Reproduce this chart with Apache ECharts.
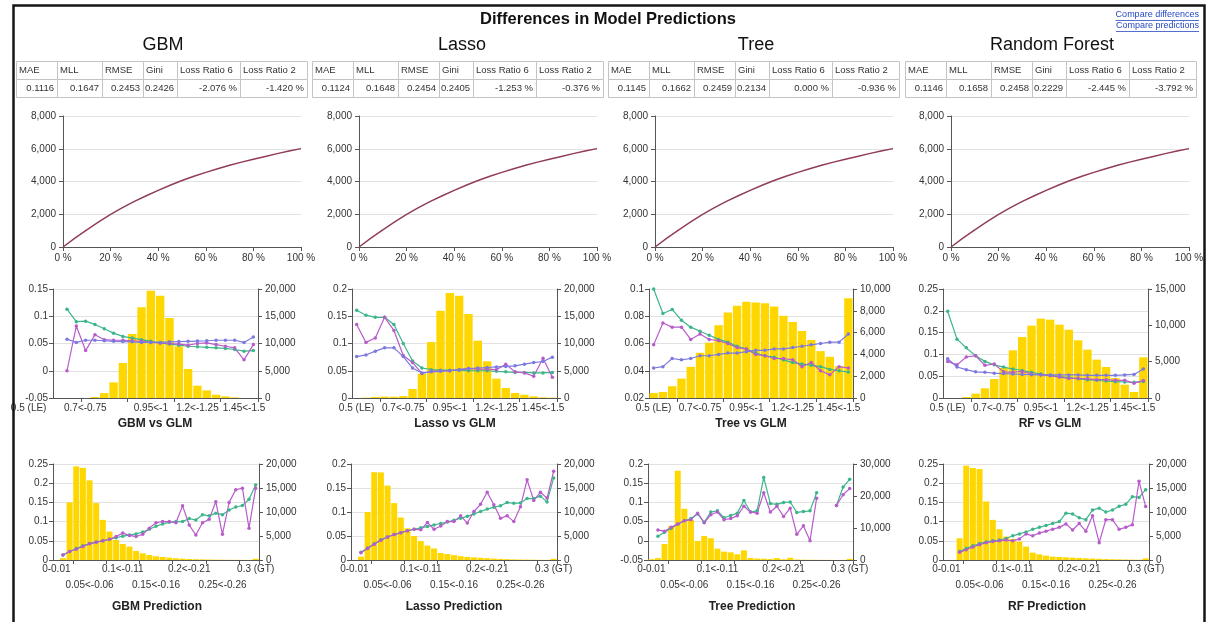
<!DOCTYPE html>
<html>
<head>
<meta charset="utf-8">
<title>Differences in Model Predictions</title>
<script src="https://cdn.jsdelivr.net/npm/echarts@6/dist/echarts.min.js"></script>
<style>
  html, body { margin: 0; padding: 0; background: #fff; }
  #chart { width: 1210px; height: 622px; }
</style>
</head>
<body>
<div id="chart"></div>
<script>
// ---------------- data ----------------
const modelNames = ['GBM', 'Lasso', 'Tree', 'Random Forest'];
const shortNames = ['GBM', 'Lasso', 'Tree', 'RF'];

const metricHeaders = ['MAE', 'MLL', 'RMSE', 'Gini', 'Loss Ratio 6', 'Loss Ratio 2'];
const metricsGBM   = ['0.1116', '0.1647', '0.2453', '0.2426', '-2.076 %', '-1.420 %'];
const metricsLasso = ['0.1124', '0.1648', '0.2454', '0.2405', '-1.253 %', '-0.376 %'];
const metricsTree  = ['0.1145', '0.1662', '0.2459', '0.2134', '0.000 %', '-0.936 %'];
const metricsRF    = ['0.1146', '0.1658', '0.2458', '0.2229', '-2.445 %', '-3.792 %'];

// cumulative curve (x in % of exposure)
const cumPct  = [0, 5, 10, 15, 20, 25, 30, 35, 40, 45, 50, 55, 60, 65, 70, 75, 80, 85, 90, 95, 100];
const cumGain = [0, 540, 1050, 1530, 1990, 2400, 2780, 3130, 3460, 3770, 4060, 4320, 4560, 4780, 4990, 5180, 5360, 5530, 5700, 5860, 6010];

// ratio bins (model / GLM)
const ratioBins = ['0.5 (LE)', '0.5<-0.55', '0.55<-0.6', '0.6<-0.65', '0.65<-0.7', '0.7<-0.75', '0.75<-0.8',
  '0.8<-0.85', '0.85<-0.9', '0.9<-0.95', '0.95<-1', '1<-1.05', '1.05<-1.1', '1.1<-1.15', '1.15<-1.2',
  '1.2<-1.25', '1.25<-1.3', '1.3<-1.35', '1.35<-1.4', '1.4<-1.45', '1.45<-1.5', '1.5 (GT)'];

// prediction bins
const predBins = ['0-0.01', '0.01<-0.02', '0.02<-0.03', '0.03<-0.04', '0.04<-0.05', '0.05<-0.06', '0.06<-0.07',
  '0.07<-0.08', '0.08<-0.09', '0.09<-0.1', '0.1<-0.11', '0.11<-0.12', '0.12<-0.13', '0.13<-0.14', '0.14<-0.15',
  '0.15<-0.16', '0.16<-0.17', '0.17<-0.18', '0.18<-0.19', '0.19<-0.2', '0.2<-0.21', '0.21<-0.22', '0.22<-0.23',
  '0.23<-0.24', '0.24<-0.25', '0.25<-0.26', '0.26<-0.27', '0.27<-0.28', '0.28<-0.29', '0.29<-0.3', '0.3 (GT)'];

// --- model vs GLM ratio charts ---
const ratioCountGBM = [0, 0, 0, 0, 180, 900, 2870, 6420, 11740, 16640, 19700, 18780, 14680, 9480, 5320, 2260, 1400, 610, 300, 120, 0, 0];
const ratioActualGBM = [null, 0.113, 0.090, 0.091, 0.085, 0.077, 0.069, 0.063, 0.060, 0.057, 0.054, 0.051, 0.049, 0.047, 0.045, 0.044, 0.043, 0.042, 0.041, 0.039, 0.036, 0.037];
const ratioModelGBM  = [null, 0.000, 0.082, 0.037, 0.066, 0.057, 0.056, 0.056, 0.055, 0.054, 0.052, 0.051, 0.050, 0.049, 0.047, 0.050, 0.051, 0.048, 0.045, 0.042, 0.020, 0.048];
const ratioGlmGBM    = [null, 0.058, 0.052, 0.056, 0.056, 0.055, 0.054, 0.0535, 0.053, 0.052, 0.052, 0.052, 0.053, 0.0535, 0.054, 0.0545, 0.055, 0.056, 0.056, 0.056, 0.052, 0.062];

const ratioCountLasso = [0, 60, 200, 260, 220, 350, 1650, 4460, 10270, 16020, 19270, 18780, 15410, 10520, 6730, 3550, 1830, 920, 610, 300, 120, 60];
const ratioActualLasso = [0.161, 0.152, 0.148, 0.148, 0.135, 0.100, 0.068, 0.055, 0.052, 0.051, 0.051, 0.051, 0.050, 0.050, 0.050, 0.049, 0.048, 0.047, 0.047, 0.046, 0.046, 0.047];
const ratioModelLasso  = [0.135, 0.102, 0.110, 0.148, 0.124, 0.078, 0.065, 0.045, 0.049, 0.050, 0.050, 0.052, 0.054, 0.053, 0.053, 0.052, 0.062, 0.048, 0.046, 0.040, 0.073, 0.038];
const ratioGlmLasso    = [0.076, 0.079, 0.086, 0.092, 0.092, 0.076, 0.055, 0.046, 0.048, 0.049, 0.050, 0.052, 0.054, 0.055, 0.056, 0.057, 0.058, 0.059, 0.062, 0.065, 0.067, 0.075];

const ratioCountTree = [460, 550, 1080, 1780, 2860, 4150, 5080, 6680, 7850, 8460, 8830, 8770, 8700, 8400, 7540, 6980, 6150, 5320, 4300, 3780, 2920, 9140];
const ratioActualTree = [0.100, 0.082, 0.085, 0.077, 0.072, 0.069, 0.066, 0.063, 0.061, 0.058, 0.056, 0.053, 0.051, 0.050, 0.048, 0.046, 0.045, 0.044, 0.043, 0.041, 0.040, 0.039];
const ratioModelTree  = [0.059, 0.075, 0.072, 0.072, 0.063, 0.067, 0.063, 0.062, 0.060, 0.057, 0.056, 0.052, 0.051, 0.049, 0.049, 0.048, 0.043, 0.046, 0.040, 0.037, 0.043, 0.042];
const ratioGlmTree    = [0.042, 0.043, 0.049, 0.048, 0.049, 0.051, 0.051, 0.052, 0.053, 0.053, 0.054, 0.055, 0.055, 0.056, 0.056, 0.057, 0.058, 0.059, 0.060, 0.061, 0.061, 0.067];

const ratioCountRF = [0, 0, 140, 600, 1330, 2610, 4130, 6560, 8390, 9950, 10920, 10780, 10090, 9400, 7940, 6650, 5280, 4270, 2750, 1830, 830, 5600];
const ratioActualRF = [0.199, 0.135, 0.115, 0.097, 0.084, 0.076, 0.071, 0.0665, 0.063, 0.059, 0.055, 0.052, 0.049, 0.047, 0.044, 0.042, 0.0405, 0.039, 0.0375, 0.0367, 0.036, 0.038];
const ratioModelRF  = [0.084, 0.076, 0.094, 0.097, 0.075, 0.078, 0.060, 0.059, 0.061, 0.055, 0.0535, 0.051, 0.048, 0.045, 0.045, 0.044, 0.042, 0.042, 0.0405, 0.0405, 0.034, 0.040];
const ratioGlmRF    = [0.090, 0.071, 0.065, 0.060, 0.059, 0.057, 0.056, 0.055, 0.054, 0.0535, 0.053, 0.053, 0.053, 0.053, 0.053, 0.052, 0.052, 0.052, 0.052, 0.053, 0.054, 0.0665];

// --- prediction charts ---
const predCountGBM = [0, 400, 12000, 19500, 19200, 16600, 11850, 8360, 5920, 4180, 3340, 2790, 1880, 1390, 1050, 770, 630, 490, 350, 280, 210, 170, 130, 100, 80, 60, 50, 40, 30, 20, 250];
const predActualGBM = [null, 0.013, 0.022, 0.030, 0.037, 0.043, 0.047, 0.050, 0.054, 0.058, 0.062, 0.065, 0.068, 0.073, 0.080, 0.088, 0.094, 0.098, 0.100, 0.100, 0.108, 0.104, 0.118, 0.115, 0.122, 0.118, 0.130, 0.138, 0.142, 0.158, 0.195];
const predModelGBM  = [null, 0.013, 0.022, 0.028, 0.035, 0.042, 0.046, 0.050, 0.054, 0.061, 0.070, 0.064, 0.061, 0.067, 0.083, 0.097, 0.100, 0.100, 0.097, 0.141, 0.091, 0.065, 0.097, 0.106, 0.152, 0.067, 0.150, 0.183, 0.187, 0.083, 0.187];

const predCountLasso = [0, 700, 10000, 18300, 18250, 15500, 11850, 8850, 6600, 5000, 3950, 3000, 2400, 1450, 1250, 1000, 800, 650, 550, 450, 380, 300, 230, 180, 130, 100, 80, 60, 40, 30, 250];
const predActualLasso = [null, 0.016, 0.025, 0.034, 0.042, 0.048, 0.053, 0.057, 0.061, 0.064, 0.067, 0.070, 0.073, 0.076, 0.079, 0.083, 0.087, 0.091, 0.096, 0.101, 0.106, 0.110, 0.113, 0.120, 0.118, 0.119, 0.128, 0.128, 0.133, 0.121, 0.171];
const predModelLasso  = [null, 0.015, 0.024, 0.033, 0.041, 0.048, 0.053, 0.057, 0.061, 0.064, 0.063, 0.078, 0.064, 0.071, 0.080, 0.080, 0.092, 0.077, 0.101, 0.116, 0.141, 0.115, 0.087, 0.092, 0.080, 0.111, 0.167, 0.124, 0.141, 0.129, 0.185];

const predCountTree = [250, 600, 5000, 10600, 27900, 16000, 12500, 5960, 7530, 6800, 3560, 2610, 2400, 1780, 3030, 630, 450, 400, 300, 600, 200, 700, 150, 100, 80, 60, 40, 30, 20, 20, 350];
const predActualTree = [null, 0.012, 0.022, 0.033, 0.043, 0.052, 0.058, 0.070, 0.048, 0.075, 0.078, 0.060, 0.066, 0.072, 0.105, 0.075, 0.078, 0.165, 0.097, 0.095, 0.100, 0.101, 0.074, 0.076, 0.078, 0.125, null, null, 0.092, 0.140, 0.160];
const predModelTree  = [null, 0.028, 0.025, 0.035, 0.044, 0.052, 0.055, 0.072, 0.047, 0.068, 0.075, 0.055, 0.058, 0.065, 0.090, 0.075, 0.072, 0.125, 0.075, 0.090, 0.063, 0.085, 0.017, 0.039, 0.000, 0.111, null, null, 0.092, 0.120, 0.136];

const predCountRF = [0, 0, 4530, 19650, 19160, 18950, 12200, 8360, 6410, 4880, 4390, 3830, 2790, 1530, 1180, 900, 700, 630, 560, 490, 420, 350, 300, 250, 200, 160, 130, 100, 80, 60, 350];
const predActualRF = [null, null, 0.022, 0.030, 0.037, 0.043, 0.047, 0.050, 0.052, 0.056, 0.063, 0.068, 0.073, 0.080, 0.085, 0.090, 0.095, 0.100, 0.122, 0.120, 0.110, 0.105, 0.130, 0.135, 0.125, 0.130, 0.140, 0.145, 0.165, 0.163, 0.183];
const predModelRF  = [null, null, 0.020, 0.027, 0.034, 0.040, 0.045, 0.048, 0.050, 0.052, 0.050, 0.055, 0.068, 0.063, 0.070, 0.075, 0.080, 0.085, 0.094, 0.078, 0.095, 0.075, 0.115, 0.045, 0.105, 0.105, 0.080, 0.085, 0.092, 0.205, 0.139];

// ---------------- per-panel setup ----------------
const panels = [
  { metrics: metricsGBM,
    ratio: { count: ratioCountGBM, actual: ratioActualGBM, model: ratioModelGBM, glm: ratioGlmGBM, min: -0.05, max: 0.15, step: 0.05, cMax: 20000, cStep: 5000 },
    pred:  { count: predCountGBM, actual: predActualGBM, model: predModelGBM, min: 0, max: 0.25, step: 0.05, cMax: 20000, cStep: 5000 } },
  { metrics: metricsLasso,
    ratio: { count: ratioCountLasso, actual: ratioActualLasso, model: ratioModelLasso, glm: ratioGlmLasso, min: 0, max: 0.2, step: 0.05, cMax: 20000, cStep: 5000 },
    pred:  { count: predCountLasso, actual: predActualLasso, model: predModelLasso, min: 0, max: 0.2, step: 0.05, cMax: 20000, cStep: 5000 } },
  { metrics: metricsTree,
    ratio: { count: ratioCountTree, actual: ratioActualTree, model: ratioModelTree, glm: ratioGlmTree, min: 0.02, max: 0.1, step: 0.02, cMax: 10000, cStep: 2000 },
    pred:  { count: predCountTree, actual: predActualTree, model: predModelTree, min: -0.05, max: 0.2, step: 0.05, cMax: 30000, cStep: 10000 } },
  { metrics: metricsRF,
    ratio: { count: ratioCountRF, actual: ratioActualRF, model: ratioModelRF, glm: ratioGlmRF, min: 0, max: 0.25, step: 0.05, cMax: 15000, cStep: 5000 },
    pred:  { count: predCountRF, actual: predActualRF, model: predModelRF, min: 0, max: 0.25, step: 0.05, cMax: 20000, cStep: 5000 } }
];

// ---------------- layout & style ----------------
const FONT = 'Arial, "Liberation Sans", sans-serif';
const TEXT = '#333';
const AXIS = '#555';
const GRIDLINE = '#e2e2e2';
const BAR = '#ffd700';
const GREEN = '#3db58a';
const MAGENTA = '#b85bcb';
const BLUE = '#7c7ade';
const CURVE = '#8f3b57';

const tableLeft = [16, 312, 608, 905];
const tableCols = [41, 45, 41, 34, 63, 67];
const tableTop = 61, rowH = 18;
const nameX = [163, 462, 756, 1052];
const topLeft = [63, 359, 655, 951];
const midLeft = [53, 352, 649, 943], midRight = [258, 557, 853, 1148];
const botLeft = [53, 351, 648, 943], botRight = [259, 557, 853, 1149];
const midTitleX = [155, 455, 751, 1050];
const botTitleX = [157, 454, 752, 1047];

const fmtNum = v => String(+Number(v).toFixed(4));
const fmtThousands = v => Number(v).toLocaleString('en-US');
const labelBase = { fontSize: 10, color: TEXT, fontFamily: FONT };

// the first GBM ratio labels sit further left, towards the axis labels
const ratioLabelGBM = {
  formatter: (v, i) => (i === 0 ? '{a|' + v + '}' : i === 5 ? '{b|' + v + '}' : v),
  rich: {
    a: Object.assign({ padding: [0, 58, 0, 0] }, labelBase),
    b: Object.assign({ padding: [0, 38, 0, 0] }, labelBase)
  }
};

const grids = [], xAxes = [], yAxes = [], series = [], graphics = [];

function axisLine() { return { show: true, onZero: false, lineStyle: { color: AXIS, width: 1 } }; }
function yLabel(fmt, margin) { return Object.assign({ margin: margin, formatter: fmt }, labelBase); }

panels.forEach((p, k) => {
  // ----- cumulative curve -----
  let gi = grids.push({ left: topLeft[k], top: 116, width: 238, height: 131, outerBoundsMode: 'none', containLabel: false }) - 1;
  let xi = xAxes.push({
    gridIndex: gi, type: 'value', min: 0, max: 100, interval: 20,
    axisLine: axisLine(), axisTick: { show: true, length: 4, lineStyle: { color: AXIS } },
    axisLabel: Object.assign({ margin: 6, formatter: v => v + ' %', showMinLabel: true, showMaxLabel: true }, labelBase),
    splitLine: { show: false }
  }) - 1;
  let yi = yAxes.push({
    gridIndex: gi, type: 'value', min: 0, max: 8000, interval: 2000,
    axisLine: axisLine(), axisTick: { show: true, length: 4, lineStyle: { color: AXIS } },
    axisLabel: yLabel(fmtThousands, 7),
    splitLine: { show: true, lineStyle: { color: GRIDLINE } }
  }) - 1;
  series.push({
    type: 'line', xAxisIndex: xi, yAxisIndex: yi, showSymbol: false,
    data: cumPct.map((x, i) => [x, cumGain[i]]),
    lineStyle: { color: CURVE, width: 1.4 }, itemStyle: { color: CURVE }
  });

  // ----- ratio (model vs GLM) chart -----
  const r = p.ratio;
  gi = grids.push({ left: midLeft[k], top: 289, width: midRight[k] - midLeft[k], height: 109, outerBoundsMode: 'none', containLabel: false }) - 1;
  const ratioLabel = Object.assign({ interval: i => i % 5 === 0, margin: 5, showMinLabel: true, showMaxLabel: true }, labelBase,
                                   k === 0 ? ratioLabelGBM : {});
  xi = xAxes.push({
    gridIndex: gi, type: 'category', data: ratioBins, boundaryGap: true,
    axisLine: axisLine(),
    axisTick: { show: true, length: 4, interval: i => [3, 8, 13, 18].includes(i), lineStyle: { color: AXIS } },
    axisLabel: ratioLabel
  }) - 1;
  const yl = yAxes.push({
    gridIndex: gi, type: 'value', position: 'left', min: r.min, max: r.max, interval: r.step,
    axisLine: axisLine(), axisTick: { show: true, length: 4, lineStyle: { color: AXIS } },
    axisLabel: yLabel(fmtNum, 5), splitLine: { show: true, lineStyle: { color: GRIDLINE } }
  }) - 1;
  const yr = yAxes.push({
    gridIndex: gi, type: 'value', position: 'right', min: 0, max: r.cMax, interval: r.cStep,
    axisLine: axisLine(), axisTick: { show: true, length: 4, lineStyle: { color: AXIS } },
    axisLabel: yLabel(fmtThousands, 7), splitLine: { show: false }
  }) - 1;
  series.push({ type: 'bar', xAxisIndex: xi, yAxisIndex: yr, data: r.count, barCategoryGap: '10%', itemStyle: { color: BAR } });
  [[r.actual, GREEN], [r.model, MAGENTA], [r.glm, BLUE]].forEach(([d, c]) => {
    series.push({
      type: 'line', xAxisIndex: xi, yAxisIndex: yl, data: d, symbol: 'circle', symbolSize: 3.5,
      showAllSymbol: true, connectNulls: false,
      lineStyle: { color: c, width: 1.2 }, itemStyle: { color: c }
    });
  });

  // ----- prediction chart -----
  const q = p.pred;
  gi = grids.push({ left: botLeft[k], top: 464, width: botRight[k] - botLeft[k], height: 96, outerBoundsMode: 'none', containLabel: false }) - 1;
  xi = xAxes.push({
    gridIndex: gi, type: 'category', data: predBins, boundaryGap: true,
    axisLine: axisLine(),
    axisTick: { show: true, length: 4, interval: i => [3, 8, 13, 18, 23, 28].includes(i), lineStyle: { color: AXIS } },
    axisLabel: Object.assign({ interval: i => i % 10 === 0, margin: 4, showMinLabel: true, showMaxLabel: true }, labelBase)
  }) - 1;
  // staggered second row of bin labels
  xAxes.push({
    gridIndex: gi, type: 'category', data: predBins, boundaryGap: true, position: 'bottom', offset: 16,
    axisLine: { show: false }, axisTick: { show: false },
    axisLabel: Object.assign({ interval: i => i % 10 === 5, margin: 4, showMinLabel: true, showMaxLabel: true }, labelBase)
  });
  const ql = yAxes.push({
    gridIndex: gi, type: 'value', position: 'left', min: q.min, max: q.max, interval: q.step,
    axisLine: axisLine(), axisTick: { show: true, length: 4, lineStyle: { color: AXIS } },
    axisLabel: yLabel(fmtNum, 5), splitLine: { show: true, lineStyle: { color: GRIDLINE } }
  }) - 1;
  const qr = yAxes.push({
    gridIndex: gi, type: 'value', position: 'right', min: 0, max: q.cMax, interval: q.cStep,
    axisLine: axisLine(), axisTick: { show: true, length: 4, lineStyle: { color: AXIS } },
    axisLabel: yLabel(fmtThousands, 7), splitLine: { show: false }
  }) - 1;
  series.push({ type: 'bar', xAxisIndex: xi, yAxisIndex: qr, data: q.count, barCategoryGap: '10%', itemStyle: { color: BAR } });
  [[q.actual, GREEN], [q.model, MAGENTA]].forEach(([d, c]) => {
    series.push({
      type: 'line', xAxisIndex: xi, yAxisIndex: ql, data: d, symbol: 'circle', symbolSize: 3.5,
      showAllSymbol: true, connectNulls: false,
      lineStyle: { color: c, width: 1.2 }, itemStyle: { color: c }
    });
  });
});

// ---------------- text, tables, frame ----------------
function text(x, y, str, font, fill, align) {
  return {
    type: 'text', x: x, y: y, silent: true, z: 50,
    style: { text: str, font: font, fill: fill, align: align || 'center', textAlign: align || 'center',
             verticalAlign: 'middle', textVerticalAlign: 'middle' }
  };
}
const measureCtx = document.createElement('canvas').getContext('2d');
function textWidth(str, font) { measureCtx.font = font; return measureCtx.measureText(str).width; }

// page frame
graphics.push({ type: 'rect', silent: true, z: 60, shape: { x: 13.5, y: 5.5, width: 1191, height: 640 },
                style: { fill: 'none', stroke: '#151515', lineWidth: 2.5 } });

// main title and links
graphics.push(text(608, 19, 'Differences in Model Predictions', 'bold 16.5px ' + FONT, '#111'));
const linkFont = '9px ' + FONT;
['Compare differences', 'Compare predictions'].forEach((s, i) => {
  const y = 15 + i * 11;
  graphics.push(text(1199, y, s, linkFont, '#2747c4', 'right'));
  const w = textWidth(s, linkFont);
  graphics.push({ type: 'line', silent: true, z: 50, shape: { x1: 1199 - w, y1: y + 5.5, x2: 1199, y2: y + 5.5 },
                  style: { stroke: '#2747c4', lineWidth: 0.8 } });
});

panels.forEach((p, k) => {
  graphics.push(text(nameX[k], 45, modelNames[k], '18px ' + FONT, '#111'));
  // metrics table
  let x = tableLeft[k];
  tableCols.forEach((w, j) => {
    [0, 1].forEach(r => {
      graphics.push({ type: 'rect', silent: true, z: 40,
        shape: { x: x + 0.5, y: tableTop + r * rowH + 0.5, width: w, height: rowH },
        style: { fill: '#fff', stroke: '#c4c4c4', lineWidth: 1 } });
    });
    graphics.push(text(x + 3, tableTop + rowH / 2 + 0.5, metricHeaders[j], '9.5px ' + FONT, '#333', 'left'));
    graphics.push(text(x + w - 3, tableTop + rowH * 1.5 + 0.5, p.metrics[j], '9.5px ' + FONT, '#333', 'right'));
    x += w;
  });
  graphics.push(text(midTitleX[k], 424, shortNames[k] + ' vs GLM', 'bold 12px ' + FONT, '#222'));
  graphics.push(text(botTitleX[k], 607, shortNames[k] + ' Prediction', 'bold 12px ' + FONT, '#222'));
});

const chart = echarts.init(document.getElementById('chart'), null, { renderer: 'canvas', width: 1210, height: 622 });
chart.setOption({
  animation: false,
  backgroundColor: '#fff',
  textStyle: { fontFamily: FONT },
  grid: grids,
  xAxis: xAxes,
  yAxis: yAxes,
  series: series,
  graphic: { elements: graphics }
});
</script>
</body>
</html>
